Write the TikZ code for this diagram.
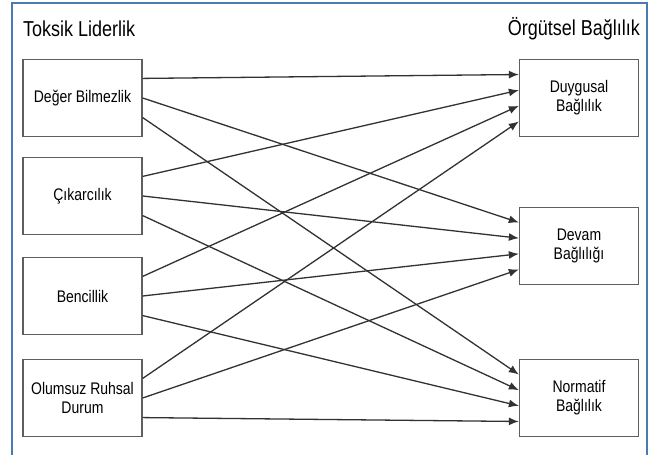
\documentclass[tikz,border=0pt]{standalone}
\usepackage{fontspec}
\setmainfont{Liberation Sans}
\usepackage{graphicx}
\usepackage{tikz}
\usetikzlibrary{arrows.meta, calc, positioning}
\definecolor{FrameBlue}{RGB}{74, 122, 181}
\definecolor{BoxGray}{RGB}{95, 95, 95}
\definecolor{LineGray}{RGB}{50, 50, 50}
\newcommand{\tall}[1]{\scalebox{1}[1.2]{#1}}

\begin{document}
\begin{tikzpicture}[x=1bp,y=-1bp,
  box/.style={draw=BoxGray, line width=1.3bp, minimum width=119bp, minimum height=77bp,
    align=center, inner sep=2bp, font=\fontsize{14bp}{19bp}\selectfont},
  title/.style={font=\fontsize{18bp}{20bp}\selectfont, inner sep=0pt},
  link/.style={draw=LineGray, line width=1.3bp, -{Latex[length=10bp,width=8bp]}}]
\useasboundingbox (0,0) rectangle (649,455);
\fill[white] (0,0) rectangle (649,455);
\draw[FrameBlue, line width=1.3bp] (12,455) -- (12,3) -- (647,3) -- (647,455);
% titles
\node[title, anchor=west] (toksik) at (23,29) {\tall{Toksik Liderlik}};
\node[title, anchor=east] (orgutsel) at (640,29) {\tall{Örgütsel Bağlılık}};
% left column
\node[box] (l1) at (82.5,98) {\tall{Değer Bilmezlik}};
\node[box] (l2) at (82.5,196) {\tall{Çıkarcılık}};
\node[box] (l3) at (82.5,296) {\tall{Bencillik}};
\node[box] (l4) at (82.5,398) {\tall{Olumsuz Ruhsal}\\\tall{Durum}};
% right column
\node[box] (r1) at (579,98) {\tall{Duygusal}\\\tall{Bağlılık}};
\node[box] (r2) at (579,246) {\tall{Devam}\\\tall{Bağlılığı}};
\node[box] (r3) at (579,398) {\tall{Normatif}\\\tall{Bağlılık}};
% links
\foreach \L [evaluate=\L as \F using {0.2*\L}] in {1,...,4}
{\foreach \R in {1,2,3}
 {\draw[link] ($(l\L.north east)!\R/4!(l\L.south east)$) -- ($(r\R.north west)!\F!(r\R.south west)$);
 }
}
\end{tikzpicture}
\end{document}
